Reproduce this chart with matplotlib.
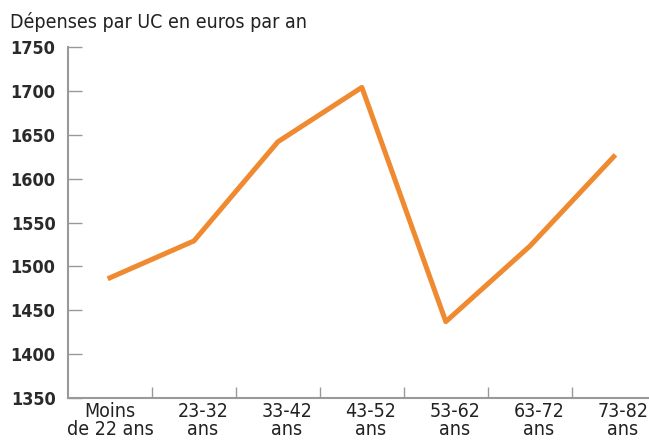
import matplotlib
matplotlib.use("Agg")
import matplotlib.pyplot as plt
import matplotlib.transforms as mtransforms
import numpy as np

# data
categories = ["Moins\nde 22 ans", "23-32\nans", "33-42\nans", "43-52\nans",
              "53-62\nans", "63-72\nans", "73-82\nans"]
depenses = [1487, 1529, 1642, 1704, 1437, 1523, 1625]
y_ticks = [1350, 1400, 1450, 1500, 1550, 1600, 1650, 1700, 1750]

plt.rcParams['font.family'] = ['DejaVu Sans']
plt.rcParams['font.stretch'] = 'condensed'

fig = plt.figure(figsize=(6.49, 4.44), dpi=100)
ax = fig.add_axes([68 / 649, 1 - 398 / 444, 1 - 68 / 649, (398 - 47) / 444])

x = np.arange(len(categories))
ax.plot(x, depenses, color='#F08A30', linewidth=3.6)

ax.set_ylim(1350, 1750)
ax.set_xlim(-0.5, 6.42)
ax.set_yticks(y_ticks)
ax.set_yticklabels([str(v) for v in y_ticks], fontsize=13, color='#2a2a2a', fontweight='bold')

# category labels in the middle, tick marks on the boundaries
ax.set_xticks(x)
ax.set_xticklabels(categories, fontsize=14, color='#222222', linespacing=0.95)
ax.tick_params(axis='x', which='major', length=0, pad=3)
ax.set_xticks(np.arange(0.5, 6.5, 1), minor=True)
ax.tick_params(axis='x', which='minor', direction='in', length=8, width=1, color='#999999')
ax.tick_params(axis='y', direction='in', length=10, width=1, color='#999999', pad=9)

# the age labels sit a little right of their points in the original
shift = mtransforms.ScaledTranslation(9 / 100, 0, fig.dpi_scale_trans)
for lab in ax.get_xticklabels()[1:]:
    lab.set_transform(lab.get_transform() + shift)

for s in ['top', 'right']:
    ax.spines[s].set_visible(False)
for s in ['left', 'bottom']:
    ax.spines[s].set_color('#999999')
    ax.spines[s].set_linewidth(1.5)

fig.text(10 / 649, 1 - 28 / 444, "Dépenses par UC en euros par an", fontsize=14, color='#222222',
         va='baseline')

fig.savefig("out.png", dpi=100)
